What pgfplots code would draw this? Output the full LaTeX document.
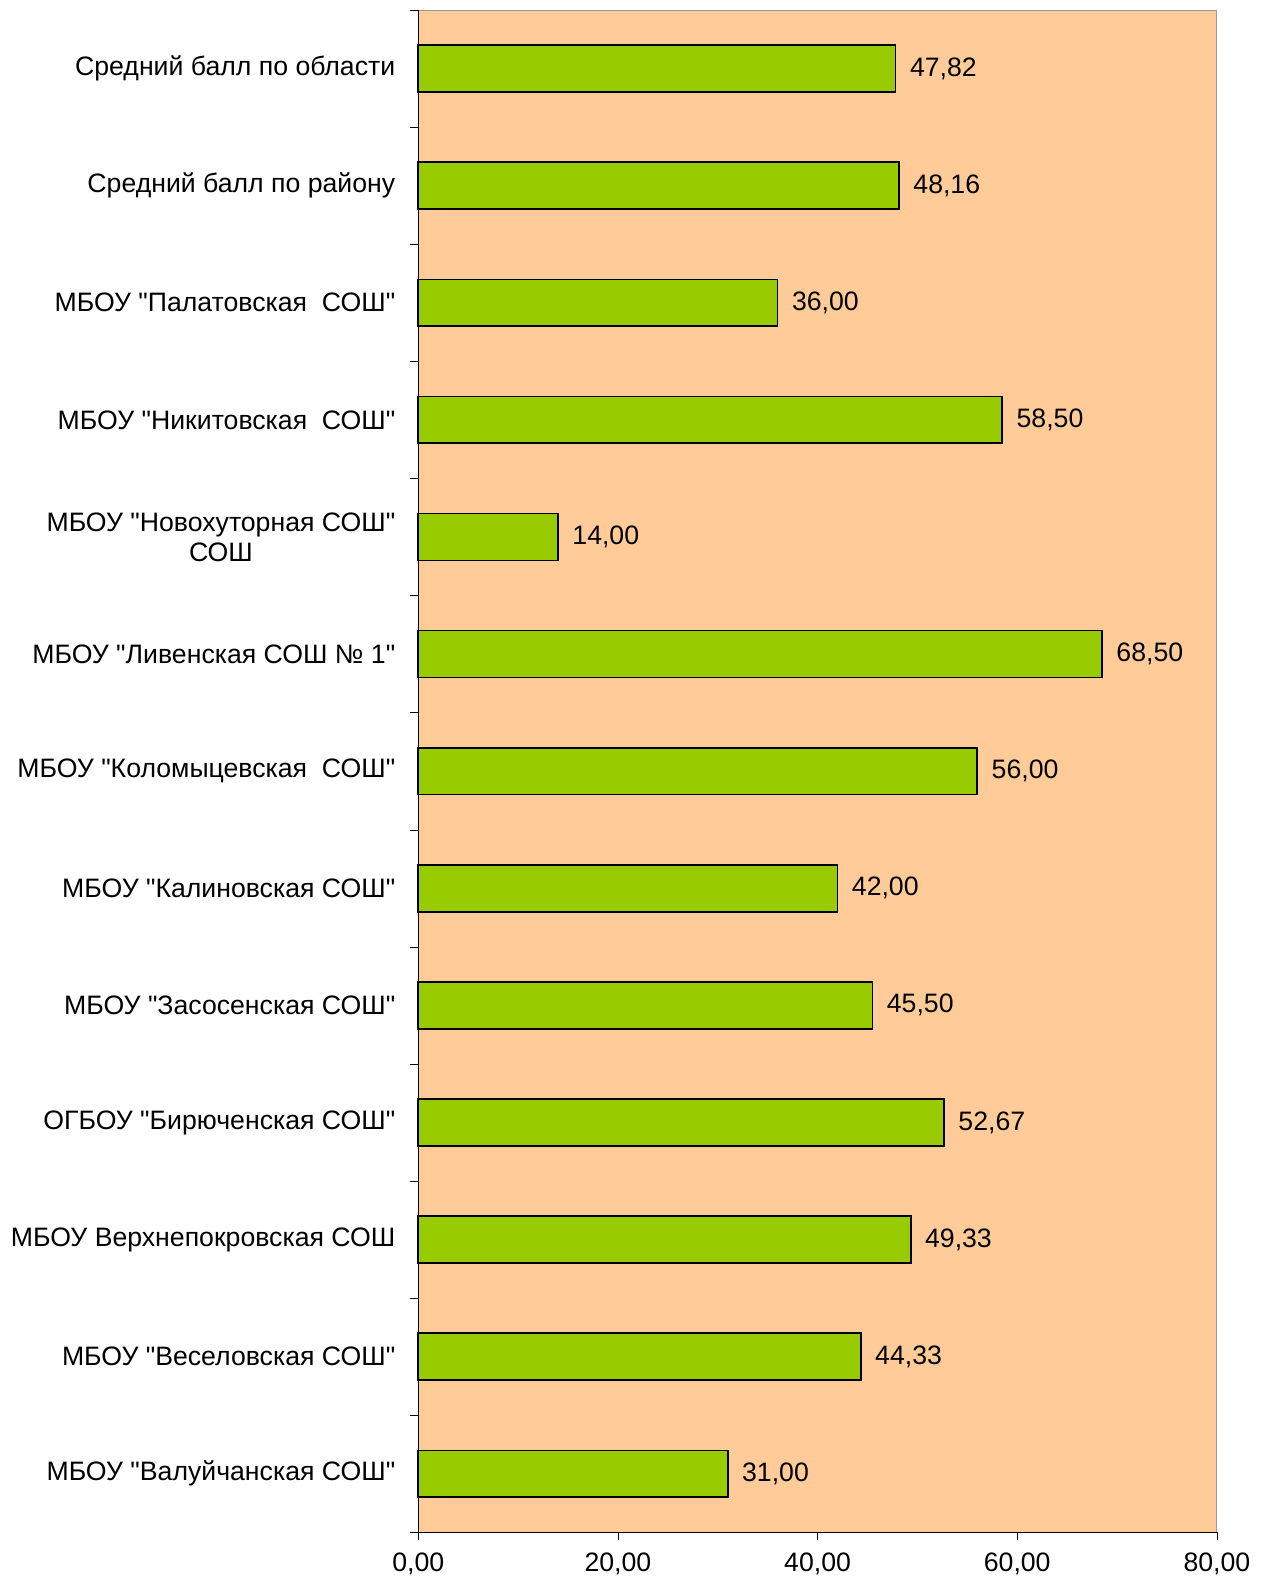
\documentclass[border=0pt]{standalone}
\usepackage{fontspec}
\setmainfont{Liberation Sans}[Ligatures=TeXOff]
\usepackage{pgfplots}
\pgfplotsset{compat=1.18}
\definecolor{peach}{HTML}{FFCC99}
\definecolor{barg}{HTML}{99CC00}
\begin{document}
\begin{tikzpicture}
\begin{axis}[
  scale only axis,
  width=400bp, height=762.5bp,
  xbar, bar width=0.4,
  y dir=reverse,
  xmin=0, xmax=80,
  ymin=-0.5, ymax=12.5,
  axis background/.style={fill=peach},
  axis line style={draw=gray!80},
  xtick={0,20,...,80},
  ytick={0,...,12},
  yticklabels={
    Средний балл по области,
    Средний балл по району,
    МБОУ "Палатовская\ \ СОШ",
    МБОУ "Никитовская\ \ СОШ",
    {МБОУ "Новохуторная СОШ"\\СОШ},
    МБОУ "Ливенская СОШ № 1",
    МБОУ "Коломыцевская\ \ СОШ",
    МБОУ "Калиновская СОШ",
    МБОУ "Засосенская СОШ",
    ОГБОУ "Бирюченская СОШ",
    МБОУ Верхнепокровская СОШ,
    МБОУ "Веселовская СОШ",
    МБОУ "Валуйчанская СОШ"},
  minor ytick={-0.5,0.5,...,12.5},
  xtick pos=bottom, ytick pos=left,
  tick align=outside,
  major tick length=4bp,
  minor tick length=4bp,
  y tick style={draw=none},
  minor y tick style={draw=black},
  x tick style={draw=black},
  yticklabel style={align=center, font=\fontsize{13.4}{15}\selectfont, xshift=-4bp},
  xticklabel style={font=\fontsize{13.4}{15}\selectfont, yshift=-3bp},
  xticklabel={\pgfmathprintnumber[fixed,fixed zerofill,precision=2,use comma]{\tick}},
  /pgf/number format/assume math mode=true,
  nodes near coords,
  nodes near coords style={font=\fontsize{13.4}{15}\selectfont, xshift=3.5bp},
  every node near coord/.append style={/pgf/number format/.cd, fixed, fixed zerofill, precision=2, use comma, assume math mode=true},
  clip=false,
]
\addplot[fill=barg, draw=black, line width=0.8pt] coordinates {
(47.82,0)
(48.16,1)
(36.00,2)
(58.50,3)
(14.00,4)
(68.50,5)
(56.00,6)
(42.00,7)
(45.50,8)
(52.67,9)
(49.33,10)
(44.33,11)
(31.00,12)
};
\end{axis}
\draw[black, line width=0.6pt] (current axis.north west) -- (current axis.south west) -- (current axis.south east);
\path ([xshift=-209.5bp,yshift=5bp]current axis.north west) rectangle ([xshift=22bp,yshift=-23.5bp]current axis.south east);
\end{tikzpicture}
\end{document}
